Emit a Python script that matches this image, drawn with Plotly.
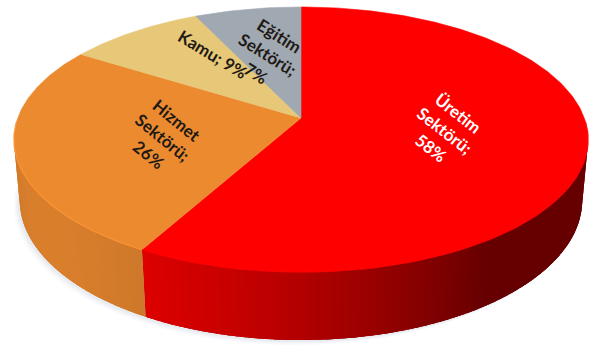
import numpy as np
import plotly.graph_objects as go

# Employment share by sector (%)
sectors = ["Üretim Sektörü", "Hizmet Sektörü", "Kamu", "Eğitim Sektörü"]
shares = [58, 26, 9, 7]
label_names = ["Üretim<br>Sektörü", "Hizmet<br>Sektörü", "Kamu", "Eğitim<br>Sektörü"]
label_seps = ["<br>", "<br>", " ", "<br>"]

top_colors = [(255, 0, 0), (236, 138, 48), (231, 199, 120), (160, 168, 178)]
text_colors = ["#FFFFFF", "#1E1A14", "#1E1A14", "#1E1A14"]

# label placement: fraction along the slice, radius, text angle
label_frac = [0.481, 0.474, 0.775, 0.475]
label_rad = [0.509, 0.497, 0.629, 0.554]
label_rot = [38, 39, 31, 32]

# perspective view of the disc
W, H = 589, 350
CX, CY = 301, 118
PHI = np.radians(27.1)
DIST = 5.49
FOC = 1555.0
THICK = 0.244


def project(alpha_deg, r, z):
    a = np.radians(alpha_deg)
    u = r * np.sin(a)
    v = r * np.cos(a)
    depth = DIST + v * np.cos(PHI) - z * np.sin(PHI)
    sx = FOC * u / depth
    sy = FOC * (v * np.sin(PHI) + z * np.cos(PHI)) / depth
    return CX + sx, CY - sy


def rgb(c, k=1.0):
    return "rgb(%d,%d,%d)" % tuple(int(max(0, min(255, round(ch * k)))) for ch in c)


def shade(alpha_deg):
    return 0.40 + 0.52 * max(0.0, np.cos(np.radians(alpha_deg - LIGHT)))


total = float(sum(shares))
bounds = np.concatenate([[0.0], np.cumsum(shares) / total * 360.0])

# outward wall faces the viewer where cos(alpha) < -1/(DIST*cos(PHI))
vis_lim = np.degrees(np.arccos(-1.0 / (DIST * np.cos(PHI))))
vis_lo, vis_hi = vis_lim, 360.0 - vis_lim
LIGHT = 235.0

fig = go.Figure()


def wall_poly(s0, s1):
    ang = np.linspace(s0, s1, max(4, int((s1 - s0) * 2)))
    tx, ty = project(ang, 1.0, 0.0)
    bx, by = project(ang[::-1], 1.0, -THICK)
    return np.concatenate([tx, bx, tx[:1]]), np.concatenate([ty, by, ty[:1]])


# soft drop shadow under the disc
for off, alpha in [(10, 0.05), (7, 0.07), (4, 0.09)]:
    ang = np.linspace(100, 290, 120)
    bx, by = project(ang, 1.0, -THICK)
    fig.add_trace(go.Scatter(
        x=np.concatenate([bx - off * 0.6, [CX]]), y=np.concatenate([by + off * 0.5, [CY + 60]]),
        mode="lines", fill="toself", fillcolor="rgba(140,160,185,%.2f)" % alpha,
        line=dict(width=0), hoverinfo="skip", showlegend=False))

# outer walls: a solid base, then overlapping shaded strips
for i, name in enumerate(sectors):
    a0 = max(bounds[i], vis_lo)
    a1 = min(bounds[i + 1], vis_hi)
    if a1 <= a0:
        continue
    wx, wy = wall_poly(a0, a1)
    base = rgb(top_colors[i], shade(0.5 * (a0 + a1)))
    fig.add_trace(go.Scatter(
        x=wx, y=wy, mode="lines", fill="toself", fillcolor=base,
        line=dict(width=0), hoverinfo="skip", showlegend=False))
    step = 1.5
    n = max(2, int(np.ceil((a1 - a0) / step)))
    edges = np.linspace(a0, a1, n + 1)
    for j in range(n):
        s0 = edges[j]
        s1 = min(a1, edges[j + 1] + 0.8 * (edges[1] - edges[0]))
        col = rgb(top_colors[i], shade(0.5 * (edges[j] + edges[j + 1])))
        wx, wy = wall_poly(s0, s1)
        fig.add_trace(go.Scatter(
            x=wx, y=wy, mode="lines", fill="toself", fillcolor=col,
            line=dict(width=0), hoverinfo="skip", showlegend=False))

# top faces
for i, name in enumerate(sectors):
    ang = np.linspace(bounds[i], bounds[i + 1], max(8, int(shares[i] * 4)))
    ex, ey = project(ang, 1.0, 0.0)
    x = np.concatenate([[CX], ex, [CX]])
    y = np.concatenate([[CY], ey, [CY]])
    col = rgb(top_colors[i])
    fig.add_trace(go.Scatter(
        x=x, y=y, mode="lines", fill="toself", fillcolor=col,
        line=dict(width=0.6, color=col), name=name,
        hoverinfo="name", showlegend=False))

# bevel highlight along the front rim
for i, name in enumerate(sectors):
    a0 = max(bounds[i], vis_lo - 10)
    a1 = min(bounds[i + 1], vis_hi + 10)
    if a1 <= a0:
        continue
    ang = np.linspace(a0, a1, 60)
    rx, ry = project(ang, 1.0, 0.0)
    fig.add_trace(go.Scatter(
        x=rx, y=ry, mode="lines", line=dict(width=1.5, color=rgb(top_colors[i], 1.08)),
        opacity=0.7, hoverinfo="skip", showlegend=False))

# data labels
for i, name in enumerate(sectors):
    ang = bounds[i] + label_frac[i] * (bounds[i + 1] - bounds[i])
    lx, ly = project(ang, label_rad[i], 0.0)
    text = "%s;%s%d%%" % (label_names[i], label_seps[i], shares[i])
    fig.add_annotation(
        x=lx, y=ly, xref="x", yref="y", text=text, showarrow=False,
        textangle=label_rot[i], align="center",
        font=dict(family="Lato, Open Sans, sans-serif", size=17, color=text_colors[i], weight="bold"))

fig.update_layout(
    width=W, height=H, margin=dict(l=0, r=0, t=0, b=0),
    paper_bgcolor="white", plot_bgcolor="white",
    xaxis=dict(range=[0, W], visible=False, fixedrange=True),
    yaxis=dict(range=[H, 0], visible=False, fixedrange=True),
    showlegend=False,
)

fig.write_html("out.html")
